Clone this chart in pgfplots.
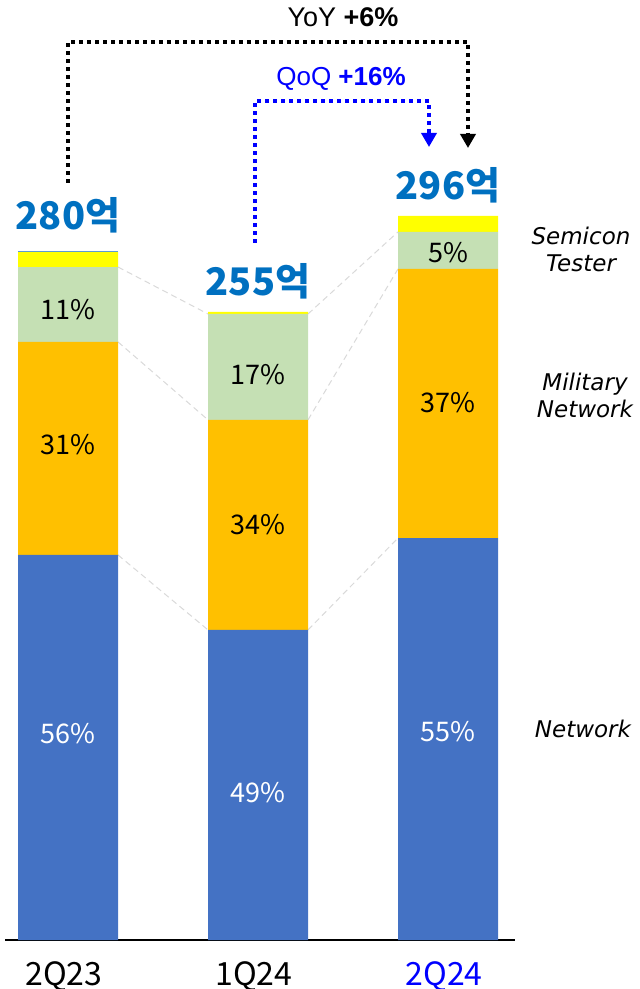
\documentclass[border=0pt]{standalone}
\usepackage{fontspec}
\setmainfont{Noto Sans CJK KR}
\newfontfamily\arialf{Liberation Sans}
\newfontfamily\dejavu{DejaVu Sans}
\usepackage{pgfplots}
\pgfplotsset{compat=1.18}
\usetikzlibrary{arrows.meta}
\definecolor{cNet}{HTML}{4472C4}
\definecolor{cMil}{HTML}{FFC000}
\definecolor{cSem}{HTML}{C5E0B4}
\definecolor{cYel}{HTML}{FFFF00}
\definecolor{cTop}{HTML}{5B9BD5}
\definecolor{cTot}{HTML}{0070C0}
\definecolor{cQoQ}{HTML}{0000FF}
\definecolor{cDash}{HTML}{D9D9D9}

\begin{document}
\begin{tikzpicture}
\useasboundingbox (0,0) rectangle (640pt,989pt);
\begin{axis}[
  at={(5pt,49pt)}, anchor=south west,
  scale only axis, width=510pt, height=884.52pt,
  xmin=-0.3316, xmax=2.3526, ymin=0, ymax=360,
  enlargelimits=false, clip=false,
  ybar stacked, bar width=100pt,
  axis y line=none, axis x line*=bottom,
  x axis line style={black, line width=1.2pt, -},
  xtick={0,1,2},
  xticklabels={2Q23,1Q24,{\textcolor{cQoQ}{2Q24}}},
  major tick length=0pt,
  xticklabel style={font=\fontsize{32}{32}\selectfont, inner sep=0pt, anchor=north, yshift=-21pt, xshift=-4pt},
]
\addplot[fill=cNet, draw=none] coordinates {(0,156.7) (1,126.2) (2,163.6)};
\addplot[fill=cMil, draw=none] coordinates {(0,86.7) (1,85.5) (2,109.5)};
\addplot[fill=cSem, draw=none] coordinates {(0,30.5) (1,43.1) (2,15.1)};
\addplot[fill=cYel, draw=none] coordinates {(0,6.1) (1,0.8) (2,6.5)};
\addplot[fill=cTop, draw=none] coordinates {(0,0.5) (1,0) (2,0)};

% dashed connectors
\draw[cDash, line width=1pt, dash pattern=on 6pt off 4pt] (axis cs:0.2632,156.7) -- (axis cs:0.7368,126.2);
\draw[cDash, line width=1pt, dash pattern=on 6pt off 4pt] (axis cs:0.2632,243.4) -- (axis cs:0.7368,211.7);
\draw[cDash, line width=1pt, dash pattern=on 6pt off 4pt] (axis cs:0.2632,273.9) -- (axis cs:0.7368,254.8);
\draw[cDash, line width=1pt, dash pattern=on 6pt off 4pt] (axis cs:1.2632,126.2) -- (axis cs:1.7368,163.6);
\draw[cDash, line width=1pt, dash pattern=on 6pt off 4pt] (axis cs:1.2632,211.7) -- (axis cs:1.7368,273.1);
\draw[cDash, line width=1pt, dash pattern=on 6pt off 4pt] (axis cs:1.2632,254.8) -- (axis cs:1.7368,288.2);

% label positions
\coordinate (a1) at (axis cs:0,84.2);
\coordinate (a2) at (axis cs:0,201.5);
\coordinate (a3) at (axis cs:0,256.4);
\coordinate (b1) at (axis cs:1,59.8);
\coordinate (b2) at (axis cs:1,168.9);
\coordinate (b3) at (axis cs:1,230.0);
\coordinate (c1) at (axis cs:2,84.7);
\coordinate (c2) at (axis cs:2,218.6);
\coordinate (c3) at (axis cs:2,279.6);

% totals
\node[font=\bfseries\fontsize{38}{38}\selectfont, text=cTot, anchor=base, inner sep=0pt] at (axis cs:0,289.0) {280억};
\node[font=\bfseries\fontsize{38}{38}\selectfont, text=cTot, anchor=base, inner sep=0pt] at (axis cs:1,262.5) {255억};
\node[font=\bfseries\fontsize{38}{38}\selectfont, text=cTot, anchor=base, inner sep=0pt] at (axis cs:2,301.2) {296억};
\end{axis}

% segment labels
\begin{scope}[every node/.style={inner sep=0pt, font=\fontsize{27}{27}\selectfont}]
\node[text=white] at (a1) {56\%};
\node at (a2) {31\%};
\node at (a3) {11\%};
\node[text=white] at (b1) {49\%};
\node at (b2) {34\%};
\node at (b3) {17\%};
\node[text=white] at (c1) {55\%};
\node at (c2) {37\%};
\node at (c3) {5\%};
\end{scope}

% growth arrows
\draw[black, line width=4pt, dash pattern=on 4pt off 4pt, -{Triangle[width=15pt,length=14pt]}]
  (68pt,806pt) -- (68pt,947pt) -- (468pt,947pt) -- (468pt,841pt);
\draw[cQoQ, line width=4pt, dash pattern=on 4pt off 4pt, -{Triangle[width=15pt,length=14pt]}]
  (255pt,746pt) -- (255pt,888pt) -- (429pt,888pt) -- (429pt,842pt);
\node[anchor=base, inner sep=0pt, font=\arialf\fontsize{27}{27}\selectfont] at (343pt,962pt) {YoY \textbf{+6\%}};
\node[anchor=base, inner sep=0pt, text=cQoQ, font=\arialf\fontsize{26}{26}\selectfont] at (341pt,903pt) {QoQ \textbf{+16\%}};

% category names on the right
\node[font=\dejavu\itshape\fontsize{23}{27}\selectfont, align=center, inner sep=0pt] at (581pt,739.5pt) {Semicon\\Tester};
\node[font=\dejavu\itshape\fontsize{23}{27}\selectfont, align=center, inner sep=0pt] at (585pt,593.5pt) {Military\\Network};
\node[font=\dejavu\itshape\fontsize{23}{27}\selectfont, align=center, inner sep=0pt] at (583pt,260pt) {Network};
\end{tikzpicture}
\end{document}
